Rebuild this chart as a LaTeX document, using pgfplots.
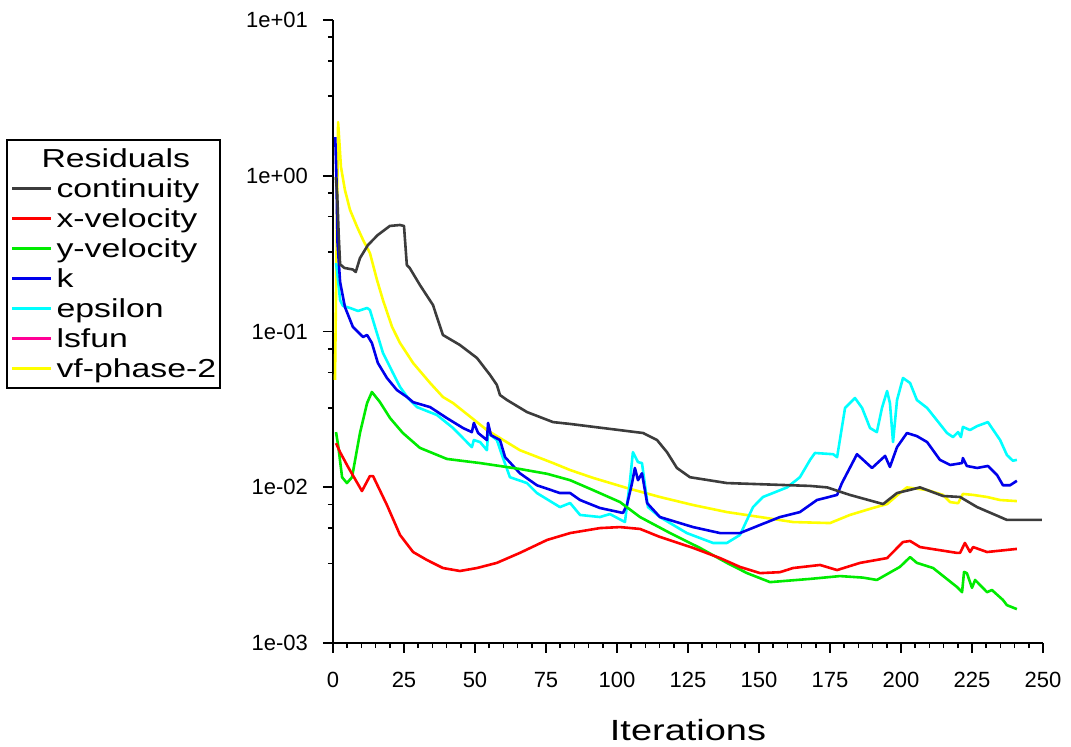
\documentclass[border=0pt]{standalone}
\usepackage{fontspec}
\setmainfont{Liberation Sans}
\newfontfamily\widefont[FakeStretch=1.3]{Liberation Sans}
\usepackage{pgfplots}
\pgfplotsset{compat=1.18}
\definecolor{contcol}{RGB}{60,60,60}
\definecolor{xvelcol}{RGB}{255,0,0}
\definecolor{yvelcol}{RGB}{0,235,0}
\definecolor{kcol}{RGB}{0,0,235}
\definecolor{epscol}{RGB}{0,255,255}
\definecolor{lsfcol}{RGB}{255,0,150}
\definecolor{vfcol}{RGB}{255,255,0}

\begin{document}
\begin{tikzpicture}
% 1 px of the reference = 0.5pt
\path[use as bounding box] (-166.5pt,-51.5pt) rectangle (369pt,321.5pt);
\begin{axis}[
    at={(0,0)}, anchor=south west,
    scale only axis,
    width=355pt, height=311.5pt,
    xmin=0, xmax=250,
    ymin=1e-3, ymax=10,
    ymode=log,
    axis x line*=bottom,
    axis y line*=left,
    axis line style={line width=0.8pt},
    every tick/.style={black, line width=0.8pt},
    tick align=outside,
    major tick length=5pt,
    minor tick length=2.5pt,
    xtick={0,25,...,250},
    minor x tick num=4,
    ytick={0.001,0.01,0.1,1,10},
    yticklabels={1e-03,1e-02,1e-01,1e+00,1e+01},
    minor ytick={0.00775,0.00546,0.00324,0.0775,0.0546,0.0324,0.775,0.546,0.324,7.75,5.46,3.24},
    /pgf/number format/assume math mode=true,
    tick label style={font=\fontsize{11}{13}\selectfont},
    yticklabel style={xshift=-4pt},
    xticklabel style={yshift=-6pt},
    xlabel={Iterations},
    xlabel style={font=\fontsize{14.6}{17}\widefont, at={(axis description cs:0.5,0)}, anchor=base, yshift=-48.5pt},
    legend image code/.code={\draw[#1] (0pt,0pt) -- (19.5pt,0pt);},
    legend cell align=left,
    legend style={
        at={(axis description cs:-0.1577,0.809)}, anchor=north east,
        draw=black, line width=0.8pt,
        font=\fontsize{13}{15}\widefont,
        inner xsep=2pt, inner ysep=2pt,
        column sep=2pt, row sep=0pt,
        nodes={inner sep=0pt, text height=12pt, text depth=3pt},
    },
    every axis plot/.append style={line width=1.3pt, line join=round},
]
% legend built first so the order matches the reference
\addlegendimage{empty legend}
\addlegendentry{\hspace*{-7.5pt}Residuals}
\addlegendimage{contcol, line width=1.3pt}
\addlegendentry{continuity}
\addlegendimage{xvelcol, line width=1.3pt}
\addlegendentry{x-velocity}
\addlegendimage{yvelcol, line width=1.3pt}
\addlegendentry{y-velocity}
\addlegendimage{kcol, line width=1.3pt}
\addlegendentry{k}
\addlegendimage{epscol, line width=1.3pt}
\addlegendentry{epsilon}
\addlegendimage{lsfcol, line width=1.3pt}
\addlegendentry{lsfun}
\addlegendimage{vfcol, line width=1.3pt}
\addlegendentry{vf-phase-2}

% vf-phase-2
\addplot[vfcol, forget plot] coordinates {
    (0.7,0.0489) (1.8,2.21) (2.8,1.14) (4.2,0.811) (6.0,0.603) (8.5,0.469)
    (10.6,0.387) (13.0,0.319) (15.5,0.214) (17.6,0.159) (20.8,0.107)
    (23.6,0.0844) (28.2,0.0628) (34.2,0.0467) (38.7,0.038) (42.3,0.0347)
    (54.2,0.0233) (65.8,0.0173) (77.5,0.0143) (83.5,0.0129) (91.5,0.0115)
    (103.5,0.00989) (115.1,0.00866) (126.8,0.00769) (138.7,0.00693)
    (150.4,0.00644) (162.0,0.00598) (175.0,0.00589) (182.0,0.00664)
    (190.1,0.00736) (195.1,0.0078) (199.6,0.00918) (202.1,0.00998)
    (209.2,0.0096) (214.8,0.00893) (217.3,0.00803) (220.1,0.0079)
    (221.8,0.00906) (225.4,0.00893) (230.3,0.00866) (234.9,0.00828)
    (240.8,0.00815)
};
% epsilon
\addplot[epscol, forget plot] coordinates {
    (1.06,0.275) (1.4,0.248) (2.5,0.159) (3.5,0.146) (6.0,0.1416) (8.8,0.1355)
    (12.0,0.1416) (13.0,0.1375) (14.8,0.107) (17.6,0.0728) (21.1,0.0542)
    (23.6,0.0441) (26.4,0.0374) (29.6,0.0327) (36.6,0.0291) (42.3,0.024)
    (48.9,0.0181) (49.6,0.0201) (51.8,0.0195) (54.2,0.0173) (54.6,0.0223)
    (57.7,0.0201) (59.5,0.0161) (62.3,0.0116) (68.3,0.01064) (71.8,0.00918)
    (79.9,0.00746) (83.5,0.00792) (87.0,0.00664) (94.0,0.00644)
    (97.5,0.00673) (102.8,0.00598) (104.6,0.0111) (105.6,0.0168)
    (107.4,0.0145) (108.8,0.0143) (110.9,0.00746) (115.1,0.00644)
    (124.6,0.00508) (133.8,0.00439) (138.7,0.00439) (143.3,0.00494)
    (147.9,0.00746) (151.4,0.00866) (159.9,0.00998) (164.4,0.0116)
    (168.0,0.015) (169.7,0.0166) (176.1,0.0163) (177.5,0.0156)
    (180.3,0.0323) (183.8,0.0374) (186.3,0.0323) (189.1,0.024)
    (191.5,0.0226) (193.3,0.0323) (195.1,0.0415) (196.1,0.0347)
    (197.2,0.0195) (198.6,0.0363) (200.7,0.0503) (203.2,0.0467)
    (205.6,0.0363) (209.2,0.0323) (216.2,0.0223) (218.3,0.021)
    (220.1,0.0226) (221.1,0.021) (221.8,0.0244) (224.3,0.0233)
    (226.8,0.0247) (230.6,0.0262) (234.9,0.0201) (237.3,0.0161)
    (239.4,0.0148) (240.8,0.015)
};
% k
\addplot[kcol, forget plot] coordinates {
    (0.8,1.77) (1.2,1.0) (1.6,0.37) (2.5,0.208) (4.2,0.1436) (7.0,0.107)
    (10.6,0.0922) (12.0,0.095) (13.7,0.0844) (15.8,0.0628) (19.0,0.0503)
    (22.5,0.0421) (26.1,0.0379) (28.2,0.0352) (34.2,0.0327) (40.1,0.0278)
    (45.8,0.024) (48.9,0.0226) (49.6,0.0259) (51.1,0.0223) (54.2,0.0201)
    (54.6,0.0259) (55.6,0.0216) (58.8,0.0201) (60.6,0.0156) (65.8,0.0123)
    (71.8,0.0103) (79.9,0.00918) (83.5,0.00918) (87.0,0.00828)
    (94.0,0.00736) (102.1,0.00684) (103.5,0.00769) (105.3,0.01064)
    (106.3,0.0133) (107.4,0.0111) (108.8,0.0123) (110.6,0.00792)
    (115.1,0.00644) (126.8,0.00555) (136.3,0.00508) (143.3,0.00508)
    (150.4,0.00573) (157.4,0.00644) (164.4,0.00693) (170.4,0.00828)
    (177.5,0.00893) (179.2,0.01064) (181.0,0.0123) (184.5,0.0163)
    (189.8,0.0133) (194.4,0.0159) (196.1,0.0135) (198.6,0.0181)
    (202.1,0.0223) (205.6,0.0213) (209.2,0.0195) (213.7,0.015)
    (217.3,0.0139) (221.5,0.0143) (221.8,0.0154) (223.2,0.0137)
    (226.8,0.0133) (230.6,0.0137) (233.8,0.012) (235.9,0.0103)
    (238.4,0.0103) (240.8,0.011)
};
% y-velocity
\addplot[yvelcol, forget plot] coordinates {
    (1.06,0.0226) (1.8,0.0187) (3.2,0.0116) (4.9,0.01064) (6.7,0.0116)
    (9.5,0.0223) (12.0,0.0347) (13.7,0.0409) (16.5,0.0353) (20.1,0.0278)
    (24.6,0.0223) (30.6,0.0179) (40.1,0.0152) (51.8,0.0143) (65.8,0.0131)
    (75.4,0.0122) (83.5,0.0111) (91.5,0.0096) (101.1,0.00803)
    (108.1,0.00644) (118.7,0.00508) (129.2,0.00408) (138.7,0.00327)
    (145.8,0.00281) (153.9,0.00246) (168.0,0.00258) (178.5,0.00269)
    (186.6,0.00263) (191.5,0.00254) (199.6,0.00308) (203.2,0.00356)
    (205.6,0.00327) (211.3,0.00303) (219.7,0.00229) (221.5,0.00212)
    (222.2,0.00286) (223.2,0.00281) (225.0,0.00226) (226.1,0.00254)
    (230.3,0.00212) (232.0,0.00219) (235.9,0.00189) (237.3,0.00175)
    (240.8,0.00165)
};
% x-velocity
\addplot[xvelcol, forget plot] coordinates {
    (1.06,0.0192) (2.5,0.0168) (5.3,0.0135) (10.2,0.00946) (13.0,0.0118)
    (14.1,0.0118) (19.0,0.00769) (23.6,0.00494) (28.2,0.00384)
    (33.1,0.00341) (38.7,0.00303) (44.7,0.0029) (50.7,0.00303)
    (57.7,0.00327) (65.8,0.00379) (75.4,0.00459) (83.5,0.00508)
    (94.0,0.00547) (101.1,0.00555) (108.1,0.0054) (115.1,0.0048)
    (126.8,0.00408) (136.3,0.00351) (143.3,0.00308) (150.4,0.00281)
    (157.4,0.00285) (162.0,0.00303) (171.5,0.00317) (177.5,0.00294)
    (185.6,0.00327) (195.1,0.00351) (200.7,0.00445) (203.2,0.00452)
    (206.7,0.00413) (219.7,0.00379) (220.8,0.00379) (222.5,0.00439)
    (224.3,0.00384) (225.4,0.00413) (230.3,0.00384) (240.8,0.00402)
};
% continuity
\addplot[contcol, forget plot] coordinates {
    (1,0.98) (1.5,0.75) (2,0.42) (2.5,0.27) (4,0.256) (7,0.25) (8,0.241)
    (9.5,0.296) (12.3,0.359) (15.8,0.417) (20,0.476) (23.6,0.483)
    (25,0.476) (26,0.267) (27,0.256) (30.6,0.199) (35.2,0.148)
    (38.7,0.095) (44.7,0.0819) (50.7,0.0676) (55.3,0.0526) (57.7,0.0454)
    (58.8,0.0391) (61.3,0.0363) (68.3,0.0304) (77.5,0.0262) (83.5,0.0255)
    (97.5,0.0237) (109.2,0.0223) (114.1,0.0201) (117.6,0.0168)
    (121.1,0.0133) (125.7,0.0116) (138.7,0.01064) (168,0.0102)
    (174,0.00998) (182,0.00893) (193.7,0.0078) (198.6,0.00918)
    (206.7,0.00998) (214.8,0.00879) (220.8,0.00866) (226.8,0.00746)
    (237.3,0.00617) (249.6,0.00617)
};
\end{axis}
\end{tikzpicture}
\end{document}
